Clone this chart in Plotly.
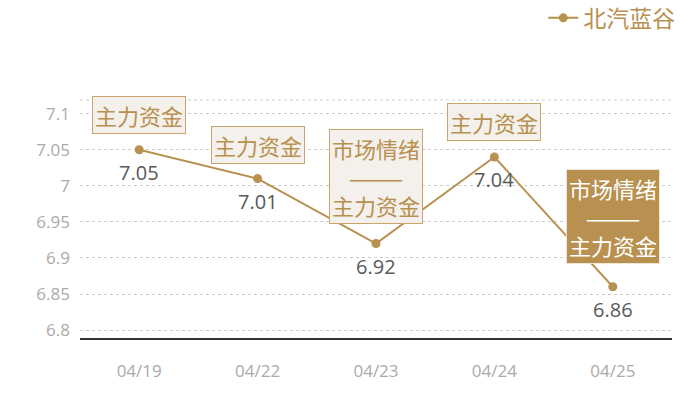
import plotly.graph_objects as go

dates = ['04/19', '04/22', '04/23', '04/24', '04/25']
prices = [7.05, 7.01, 6.92, 7.04, 6.86]
tags = ['主力资金', '主力资金', '市场情绪<br>———<br>主力资金', '主力资金', '市场情绪<br>———<br>主力资金']
tag_shift = [35, 34, 67, 35, 70]
tag_dark = [False, False, False, False, True]

gold = '#b8904f'
cjk = 'Noto Sans CJK SC'
num = 'Open Sans'

fig = go.Figure()
fig.add_trace(go.Scatter(
    x=dates, y=prices, name='北汽蓝谷',
    mode='lines+markers',
    line=dict(color=gold, width=2),
    marker=dict(color=gold, size=9),
))

# value labels under each point
for d, p in zip(dates, prices):
    fig.add_annotation(x=d, y=p, text=f'{p:g}', showarrow=False, yshift=-23,
                       font=dict(family=num, size=20, color='#595959'))

for d, p, t, s, dark in zip(dates, prices, tags, tag_shift, tag_dark):
    fig.add_annotation(
        x=d, y=p, text=t, showarrow=False, yshift=s,
        font=dict(family=cjk, size=22, color='white' if dark else gold),
        bgcolor=gold if dark else '#f4f0eb',
        bordercolor='#f0e6d6' if dark else '#c9a56c',
        borderwidth=1, borderpad=2,
    )

# dashed line along the top of the plot area
fig.add_shape(type='line', xref='paper', yref='paper', x0=0, x1=1, y0=1, y1=1,
              line=dict(color='#cccccc', width=1, dash='dot'))

fig.update_layout(
    width=700, height=400,
    margin=dict(l=80, r=28, t=100, b=62, autoexpand=False),
    paper_bgcolor='white', plot_bgcolor='white',
    showlegend=True,
    legend=dict(x=1.014, y=1.345, xanchor='right', yanchor='middle',
                font=dict(family=cjk, size=23, color=gold),
                bgcolor='rgba(0,0,0,0)'),
    xaxis=dict(
        type='category', range=[-0.5, 4.5], automargin=False,
        showgrid=False, showline=True, linecolor='#333333', linewidth=1.5,
        ticks='', tickfont=dict(family=num, size=17, color='#aaaaaa'),
        ticklabelstandoff=17,
    ),
    yaxis=dict(
        range=[6.789, 7.119], automargin=False,
        tickvals=[6.8, 6.85, 6.9, 6.95, 7, 7.05, 7.1],
        ticktext=['6.8', '6.85', '6.9', '6.95', '7', '7.05', '7.1'],
        showgrid=True, gridcolor='#cccccc', griddash='dot', gridwidth=1,
        zeroline=False, showline=False,
        tickfont=dict(family=num, size=17, color='#aaaaaa'),
        ticklabelstandoff=9,
    ),
)

# drop the default page margin so the chart sits at the window's corner
fig.write_html('out.html', config={'displayModeBar': False},
               post_script="document.body.style.margin='0';")
